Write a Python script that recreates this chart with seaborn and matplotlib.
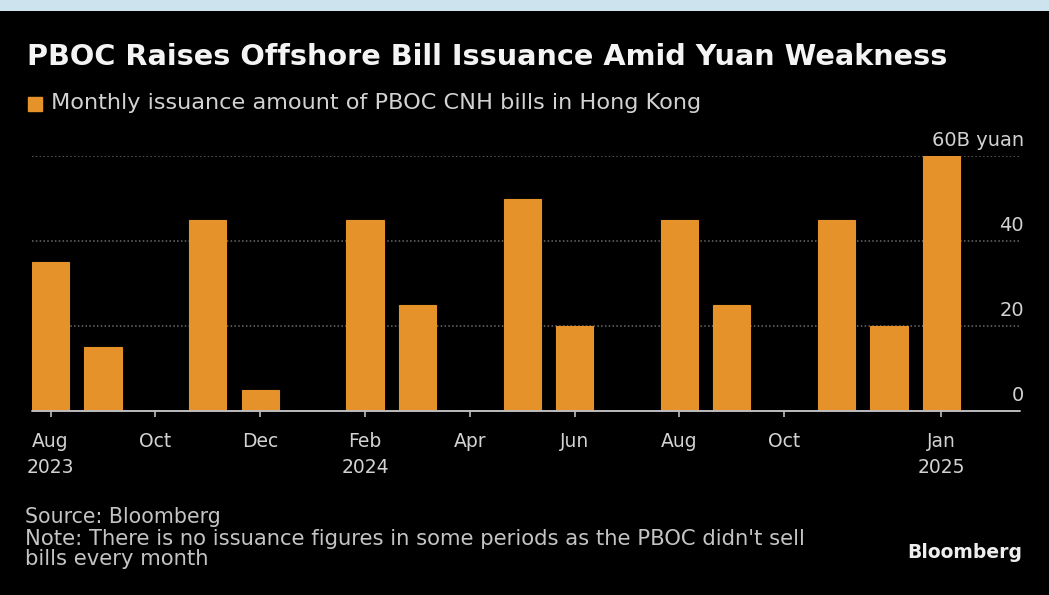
import matplotlib
matplotlib.use("Agg")
import matplotlib.pyplot as plt
import matplotlib.transforms as mtransforms
import seaborn as sns
import pandas as pd

# Monthly issuance of PBOC CNH bills in Hong Kong, billions of yuan
months = ["Aug 2023", "Sep 2023", "Oct 2023", "Nov 2023", "Dec 2023",
          "Jan 2024", "Feb 2024", "Mar 2024", "Apr 2024", "May 2024",
          "Jun 2024", "Jul 2024", "Aug 2024", "Sep 2024", "Oct 2024",
          "Nov 2024", "Dec 2024", "Jan 2025"]
issuance = [35, 15, 0, 45, 5, 0, 45, 25, 0, 50, 20, 0, 45, 25, 0, 45, 20, 60]

tick_months = ["Aug 2023", "Oct 2023", "Dec 2023", "Feb 2024", "Apr 2024",
               "Jun 2024", "Aug 2024", "Oct 2024", "Jan 2025"]
tick_labels = ["Aug\n2023", "Oct", "Dec", "Feb\n2024", "Apr",
               "Jun", "Aug", "Oct", "Jan\n2025"]
y_ticks = [0, 20, 40, 60]
y_tick_labels = ["0", "20", "40", "60B yuan"]

df = pd.DataFrame({"month": months, "issuance": issuance})

BG = "#000000"
BAR = "#e5922b"
TEXT = "#d2d2d2"
GRID = "#6a6a6a"

sns.set_theme(style="dark")
plt.rcParams["font.family"] = ["DejaVu Sans"]

W, H = 1049, 595
fig = plt.figure(figsize=(W / 100, H / 100), dpi=100, facecolor=BG)

# light band across the top edge
band = fig.add_axes([0, 1 - 11 / H, 1, 11 / H])
band.set_facecolor("#cde3ee")
band.set_xticks([])
band.set_yticks([])
for s in band.spines.values():
    s.set_visible(False)

x0, x1 = 32 / W, 1020 / W
y0, y1 = 1 - 411 / H, 1 - 156 / H
ax = fig.add_axes([x0, y0, x1 - x0, y1 - y0])
ax.set_facecolor(BG)

sns.barplot(data=df, x="month", y="issuance", color=BAR, width=0.71,
            saturation=1, edgecolor=BAR, linewidth=0.8, ax=ax)

ax.set_xlim(-0.355, 18.5)
ax.set_ylim(0, 60)
ax.set_xlabel("")
ax.set_ylabel("")
for s in ax.spines.values():
    s.set_visible(False)
ax.grid(False)

# dotted gridlines and solid baseline
for v in y_ticks[1:]:
    ax.axhline(v, color=GRID, lw=1.1, ls=(0, (1, 1.5)), zorder=0)
ax.axhline(0, color="#bdbdbd", lw=1.4, zorder=3, clip_on=False)

# value labels sit above their gridlines, right aligned
ax.set_yticks([])
lab_tf = mtransforms.blended_transform_factory(ax.transAxes, ax.transData)
for v, t in zip(y_ticks, y_tick_labels):
    ax.annotate(t, xy=(1.0, v), xycoords=lab_tf, xytext=(3, 4),
                textcoords="offset points", ha="right", va="bottom",
                fontsize=14, color=TEXT, clip_on=False)

tick_pos = [months.index(m) for m in tick_months]
ax.set_xticks(tick_pos)
ax.set_xticklabels(tick_labels, fontsize=13.5, color=TEXT, linespacing=1.45)
ax.tick_params(axis="x", colors="#bdbdbd", length=4, width=1.2,
               pad=11, labelcolor=TEXT, bottom=True)

fig.text(27 / W, 1 - 57 / H,
         "PBOC Raises Offshore Bill Issuance Amid Yuan Weakness",
         fontsize=20.7, fontweight="bold", color="#f4f4f4",
         ha="left", va="center")

# legend swatch and label
fig.patches.append(plt.Rectangle((28 / W, 1 - 111 / H), 14 / W, 14 / H,
                                 transform=fig.transFigure, color=BAR,
                                 figure=fig))
fig.text(51 / W, 1 - 103 / H,
         "Monthly issuance amount of PBOC CNH bills in Hong Kong",
         fontsize=16.1, color=TEXT, ha="left", va="center")

fig.text(25 / W, 1 - 517 / H, "Source: Bloomberg",
         fontsize=14.8, color="#c4c4c4", ha="left", va="center")
fig.text(25 / W, 1 - 549 / H,
         "Note: There is no issuance figures in some periods as the PBOC didn't sell\nbills every month",
         fontsize=15.2, color="#c4c4c4", ha="left", va="center",
         linespacing=0.98)
fig.text(1022 / W, 1 - 553 / H, "Bloomberg", fontsize=13.5,
         fontweight="bold", color="#eeeeee", ha="right", va="center")

fig.savefig("out.png", dpi=100, facecolor=BG)
